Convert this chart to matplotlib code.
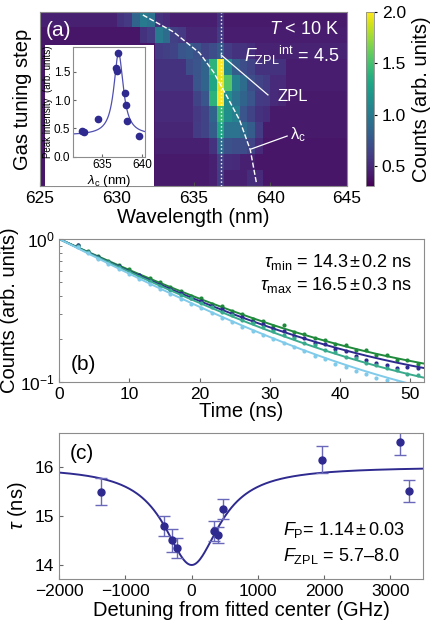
import numpy as np
import matplotlib
matplotlib.use('Agg')
import matplotlib.pyplot as plt
from matplotlib.patches import Rectangle
from matplotlib.ticker import NullFormatter

plt.rcParams['font.family'] = ['Liberation Sans', 'DejaVu Sans']
plt.rcParams['mathtext.fontset'] = 'custom'
plt.rcParams['mathtext.rm'] = 'Liberation Sans'
plt.rcParams['mathtext.it'] = 'Liberation Sans:italic'
plt.rcParams['mathtext.bf'] = 'Liberation Sans:bold'

# ---- (a) spectra per gas tuning step, 0.5 nm bins from 625 to 645 nm
wl_edges = [625.0, 645.0]
counts = [
    [0.45]*10 + [0.55, 0.58, 0.85, 1.0, 0.95, 0.55, 0.5] + [0.44]*6 + [0.55] + [0.42]*16,
    [0.40]*13 + [0.55, 0.6, 1.0, 0.9, 0.62, 0.58] + [0.48]*4 + [0.6] + [0.43]*16,
    [0.40]*15 + [0.6, 0.62, 0.65, 0.75, 0.78, 0.72, 0.65, 0.7, 0.8, 0.6, 0.55, 0.55, 0.52] + [0.47]*12,
    [0.40]*15 + [0.55]*4 + [0.7, 0.75, 0.85, 1.4, 2.0, 1.1, 0.8, 0.7, 0.65] + [0.55]*4 + [0.43]*8,
    [0.40]*15 + [0.55]*5 + [0.75, 0.85, 1.3, 1.95, 1.55, 1.05, 0.9, 0.7, 0.65, 0.6, 0.5, 0.5] + [0.43]*8,
    [0.40]*15 + [0.5]*5 + [0.65, 0.75, 1.4, 2.0, 1.15, 0.95, 0.85, 0.75, 0.6, 0.58, 0.5, 0.48] + [0.42]*8,
    [0.40]*15 + [0.5]*5 + [0.58, 0.65, 0.85, 1.45, 1.15, 1.05, 0.75, 0.65, 0.55, 0.52] + [0.42]*10,
    [0.40]*15 + [0.48]*5 + [0.6, 0.65, 0.8, 1.3, 0.95, 0.95, 0.9, 0.8, 0.6] + [0.42]*11,
    [0.40]*15 + [0.45]*7 + [0.55, 0.9, 0.72, 0.7, 0.7, 0.65, 0.5] + [0.40]*11,
    [0.40]*15 + [0.42]*7 + [0.45, 0.62, 0.52, 0.5, 0.45, 0.45] + [0.40]*12,
    [0.40]*15 + [0.42]*7 + [0.45, 0.6, 0.45, 0.45, 0.45, 0.52, 0.5] + [0.40]*11,
]
zpl_wl = 636.8
guide_row = [-0.31, 0.76, 2.09, 3.28, 4.86, 6.31, 8.2, 10.28]
guide_wl = [631.7, 633.7, 635.4, 636.3, 637.2, 638.0, 638.7, 639.1]

# inset: peak intensity vs cavity wavelength
lam_c = [632.5, 632.7, 634.5, 636.7, 636.9, 637.0, 637.8, 637.95, 638.1, 639.55]
peak = [0.46, 0.43, 0.66, 1.57, 1.51, 1.83, 1.12, 0.92, 0.63, 0.37]
lor_base, lor_amp, lor_x0, lor_hw = 0.38, 1.45, 637.05, 0.7

# ---- (b) lifetime decays
t_data = [2.6, 4.07, 5.54, 7.01, 8.48, 9.95, 11.42, 12.89, 14.36, 15.83, 17.3, 18.77,
          20.24, 21.71, 23.18, 24.65, 26.12, 27.59, 29.06, 30.53, 32.0, 33.47, 34.94,
          36.41, 37.88, 39.35, 40.82, 42.29, 43.76, 45.23, 46.7, 48.17, 49.64, 51.11]
green_pts = [0.915, 0.825, 0.760, 0.700, 0.660, 0.612, 0.562, 0.535, 0.498, 0.462, 0.435, 0.400,
             0.383, 0.352, 0.338, 0.312, 0.300, 0.276, 0.268, 0.247, 0.250, 0.222, 0.216, 0.201,
             0.197, 0.183, 0.180, 0.168, 0.166, 0.154, 0.153, 0.141, 0.143, 0.134]
blue_pts = [0.905, 0.815, 0.745, 0.688, 0.645, 0.590, 0.556, 0.512, 0.480, 0.444, 0.420, 0.386,
            0.366, 0.338, 0.321, 0.297, 0.283, 0.262, 0.252, 0.233, 0.225, 0.208, 0.203, 0.188,
            0.184, 0.170, 0.164, 0.152, 0.142, 0.136, 0.130, 0.125, 0.126, 0.124]
teal_pts = [0.895, 0.808, 0.738, 0.690, 0.632, 0.592, 0.543, 0.512, 0.468, 0.442, 0.408, 0.384,
            0.355, 0.336, 0.310, 0.293, 0.272, 0.258, 0.240, 0.228, 0.212, 0.203, 0.188, 0.180,
            0.168, 0.161, 0.150, 0.146, 0.136, 0.132, 0.124, 0.121, 0.113, 0.111]
light_pts = [0.885, 0.792, 0.722, 0.668, 0.615, 0.565, 0.522, 0.482, 0.446, 0.410, 0.380, 0.352,
             0.326, 0.303, 0.281, 0.262, 0.243, 0.227, 0.212, 0.198, 0.186, 0.174, 0.163, 0.152,
             0.144, 0.134, 0.127, 0.119, 0.113, 0.107, 0.102, 0.098, 0.097, 0.095]
# fit params (tau in ns, constant offset)
fit_tau = [17.77, 17.2, 17.33, 16.6]
fit_off = [0.085, 0.08, 0.06, 0.05]
decay_colors = ['#1f8a3b', '#2e2a8f', '#3aaa8c', '#80caea']

# ---- (c) lifetime vs detuning
detuning = [-1377, -414, -303, -218, 342, 403, 478, 1967, 3151, 3277]
tau = [15.49, 14.79, 14.50, 14.34, 14.69, 14.61, 15.14, 16.14, 16.51, 15.51]
tau_err = [0.27, 0.20, 0.24, 0.20, 0.21, 0.17, 0.21, 0.27, 0.28, 0.22]
tau_far, tau_min, fwhm = 16.0, 14.0, 950.0

indigo = '#2e2a8f'
spine_c = '0.55'

fig = plt.figure(figsize=(4.33, 6.36), dpi=100)

# ---------------- panel (a)
ax_a = fig.add_axes([0.0924, 0.7068, 0.709, 0.2744])
img = np.array(counts)
im = ax_a.imshow(img, cmap='viridis', vmin=0.3, vmax=2.0, aspect='auto',
                 interpolation='nearest',
                 extent=[wl_edges[0], wl_edges[1], len(counts) - 0.5, -0.5])
ax_a.axvline(zpl_wl, color='white', ls=':', lw=1.0)
ax_a.plot(guide_wl, guide_row, color='white', ls='--', lw=1.0)
ax_a.set_xlim(625, 645)
ax_a.set_ylim(len(counts) - 0.5, -0.5)
ax_a.set_xticks([625, 630, 635, 640, 645])
ax_a.set_yticks([])
ax_a.tick_params(axis='x', direction='in', labelsize=12.5, length=3, color='0.3')
ax_a.set_xlabel('Wavelength (nm)', fontsize=14.5, labelpad=1)
ax_a.set_ylabel('Gas tuning step', fontsize=14.5, labelpad=6)
for s in ax_a.spines.values():
    s.set_color(spine_c)
ax_a.text(0.02, 0.895, '(a)', transform=ax_a.transAxes, color='white', fontsize=15,
          va='center', ha='left')
ax_a.text(0.975, 0.9, r'$T$ < 10 K', transform=ax_a.transAxes, color='white',
          fontsize=13, ha='right', va='center')
ax_a.text(0.975, 0.75, r'$F_{\mathrm{ZPL}}{}^{\mathrm{int}}$ = 4.5', transform=ax_a.transAxes,
          color='white', fontsize=13, ha='right', va='center')
ax_a.plot([zpl_wl, 639.85], [2.21, 4.73], color='white', lw=0.9)
ax_a.text(640.45, 4.86, 'ZPL', color='white', fontsize=12, va='center', ha='left')
ax_a.plot([638.75, 641.1], [8.14, 7.32], color='white', lw=0.9)
ax_a.text(641.3, 7.25, r'λ$_\mathrm{c}$', color='white', fontsize=12, va='center', ha='left')
ax_a.add_patch(Rectangle((0.016, 0.0), 0.355, 0.811, transform=ax_a.transAxes,
                         facecolor='white', edgecolor='none', zorder=3))

cax = fig.add_axes([0.845, 0.7068, 0.019, 0.2744])
cb = fig.colorbar(im, cax=cax, ticks=[0.5, 1.0, 1.5, 2.0])
cb.ax.set_yticklabels(['0.5', '1.0', '1.5', '2.0'])
cb.ax.tick_params(labelsize=12.5, length=2, direction='out')
cb.outline.set_edgecolor(spine_c)
cb.outline.set_linewidth(0.6)
cb.set_label('Counts (arb. units)', fontsize=14.5, labelpad=4)

# inset
ax_in = fig.add_axes([0.169, 0.7536, 0.167, 0.172])
xs = np.linspace(631.4, 640.4, 300)
ax_in.plot(xs, lor_base + lor_amp / (1 + ((xs - lor_x0) / lor_hw) ** 2), color='#5050b0', lw=0.9)
ax_in.plot(lam_c, peak, 'o', color=indigo, ms=4.5)
ax_in.set_xlim(631.4, 640.4)
ax_in.set_ylim(0, 1.93)
ax_in.set_xticks([635, 640])
ax_in.set_yticks([0.0, 0.5, 1.0, 1.5])
ax_in.set_yticklabels(['0.0', '0.5', '1.0', '1.5'])
ax_in.tick_params(labelsize=8.5, direction='in', length=2, pad=2, color='0.4')
ax_in.set_xlabel(r'$\lambda_\mathrm{c}$ (nm)', fontsize=9.5, labelpad=1)
ax_in.set_ylabel('Peak intensity  (arb. units)', fontsize=7, labelpad=1)
for s in ax_in.spines.values():
    s.set_color(spine_c)
ax_in.set_zorder(4)

# ---------------- panel (b)
ax_b = fig.add_axes([0.137, 0.3998, 0.842, 0.2244])
tt = np.linspace(0, 52, 300)
series = [green_pts, blue_pts, teal_pts, light_pts]
for pts, tau_f, off, col in zip(series, fit_tau, fit_off, decay_colors):
    ax_b.plot(tt, (1 - off) * np.exp(-tt / tau_f) + off, color=col, lw=1.4)
    ax_b.plot(t_data, pts, 'o', color=col, ms=3.0, mew=0)
ax_b.set_yscale('log')
ax_b.set_ylim(0.1, 1.0)
ax_b.set_xlim(0, 52)
ax_b.set_xticks([0, 10, 20, 30, 40, 50])
ax_b.yaxis.set_minor_formatter(NullFormatter())
ax_b.tick_params(which='both', direction='in', labelsize=12.5, color='0.4')
ax_b.tick_params(which='major', length=3)
ax_b.tick_params(which='minor', length=2)
ax_b.set_xlabel('Time (ns)', fontsize=14.5, labelpad=0)
ax_b.set_ylabel('Counts (arb. units)', fontsize=14.5)
ax_b.yaxis.set_label_coords(-0.11, 0.5)
for s in ax_b.spines.values():
    s.set_color(spine_c)
ax_b.text(0.03, 0.12, '(b)', transform=ax_b.transAxes, fontsize=15, va='center')
ax_b.text(0.967, 0.84, r'$\tau_{\mathrm{min}}$ = 14.3$\,$±$\,$0.2 ns', transform=ax_b.transAxes,
          fontsize=13, ha='right', va='center')
ax_b.text(0.967, 0.68, r'$\tau_{\mathrm{max}}$ = 16.5$\,$±$\,$0.3 ns', transform=ax_b.transAxes,
          fontsize=13, ha='right', va='center')

# ---------------- panel (c)
ax_c = fig.add_axes([0.137, 0.0892, 0.8406, 0.2305])
dd = np.linspace(-2000, 3500, 500)
rate = 1 / tau_far + (1 / tau_min - 1 / tau_far) / (1 + (2 * dd / fwhm) ** 2)
ax_c.plot(dd, 1 / rate, color=indigo, lw=1.4)
ax_c.errorbar(detuning, tau, yerr=tau_err, fmt='o', color=indigo, ms=5,
              ecolor='#6a68b8', elinewidth=1.0, capsize=4, capthick=1.0)
ax_c.set_xlim(-2000, 3500)
ax_c.set_ylim(13.71, 16.69)
ax_c.set_xticks([-2000, -1000, 0, 1000, 2000, 3000])
ax_c.set_xticklabels(['\u22122000', '\u22121000', '0', '1000', '2000', '3000'])
ax_c.set_yticks([14, 15, 16])
ax_c.tick_params(direction='in', labelsize=12.5, length=3, color='0.4')
ax_c.set_xlabel('Detuning from fitted center (GHz)', fontsize=14.5, labelpad=1)
ax_c.set_ylabel(r'$\tau$ (ns)', fontsize=14.5, labelpad=4)
for s in ax_c.spines.values():
    s.set_color(spine_c)
ax_c.text(0.03, 0.86, '(c)', transform=ax_c.transAxes, fontsize=15, va='center')
ax_c.text(0.615, 0.336, r'$F_{\mathrm{P}}$= 1.14$\,$±$\,$0.03', transform=ax_c.transAxes,
          fontsize=13, ha='left', va='center')
ax_c.text(0.615, 0.159, r'$F_{\mathrm{ZPL}}$ = 5.7–8.0', transform=ax_c.transAxes,
          fontsize=13, ha='left', va='center')

fig.savefig('out.png', dpi=100)
